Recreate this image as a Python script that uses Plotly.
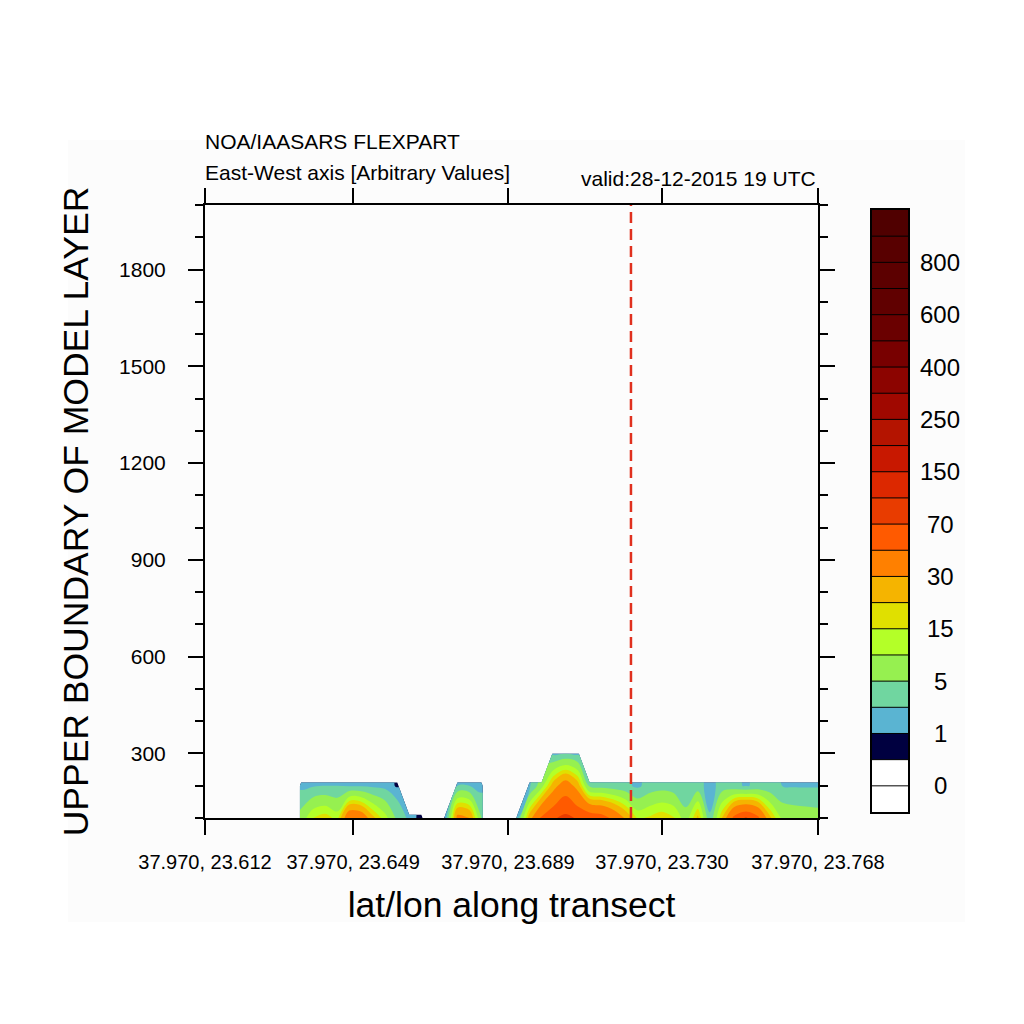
"""FLEXPART vertical transect: layer concentration along a lat/lon cross-section."""

import numpy as np
import plotly.graph_objects as go

# contour levels (value at each boundary) and the fill colour of every band, bottom -> top
level_vals = [0, 0.5, 1, 2, 5, 10, 15, 20, 30, 50, 70, 100, 150, 200, 250,
              300, 400, 500, 600, 700, 800, 900]
band_colors = ["#ffffff", "#ffffff", "#000040", "#5ab4d2", "#70d6a0", "#96f050",
               "#b4ff28", "#e0e000", "#f5b400", "#ff8000", "#ff5a00", "#e83c00",
               "#dc2800", "#c81800", "#b41400", "#a00800", "#8c0400", "#780000",
               "#6a0000", "#600000", "#5c0000", "#580000", "#500000"]

# transect longitude (lat fixed at 37.970)
lon = [23.61200, 23.61506, 23.61812, 23.62118, 23.62424, 23.62729, 23.63035, 23.63341,
       23.63647, 23.63953, 23.64259, 23.64565, 23.64871, 23.65176, 23.65482, 23.65788,
       23.66094, 23.66400, 23.66706, 23.67012, 23.67318, 23.67624, 23.67929, 23.68235,
       23.68541, 23.68847, 23.69153, 23.69459, 23.69765, 23.70071, 23.70376, 23.70682,
       23.70988, 23.71294, 23.71600, 23.71906, 23.72212, 23.72518, 23.72824, 23.73129,
       23.73435, 23.73741, 23.74047, 23.74353, 23.74659, 23.74965, 23.75271, 23.75576,
       23.75882, 23.76188, 23.76494, 23.76800]

# upper boundary of model layer [m]
layer_top = [100, 200, 300]

# concentration per layer (None = masked, no tracer)
conc_100 = [None, None, None, None, None, None, None, None,
            7, 15, 18, 13, 45, 42, 22, 12, 4, 1.5, 0.7, None,
            1.0, 35, 30, 5, None, None,
            2, 25, 55, 68, 75, 68, 66, 60, 45, 28, 14, 16, 19, 16, 7, 22,
            2.2, 20, 55, 73, 55, 22, 9, 8, 7.5, 7]
conc_200 = [None, None, None, None, None, None, None, None,
            1.5, 1.8, 2, 2, 1.8, 1.8, 1.6, 1.4, 0.9, None, None, None,
            None, 2, 2, 1.4, None, None,
            None, 1.5, 8, 25, 40, 25, 4, 3.5, 3, 2.5, 1.6, 3, 3.5, 3, 2, 3,
            1.2, 3, 2.5, 1.8, 2.5, 2.5, 2, 1.8, 1.8, 1.8]
conc_300 = [None] * 29 + [1.5, 2, 1.5] + [None] * 20

# axis labels
x_tick_pos = [23.612, 23.6497, 23.6891, 23.7283, 23.768]
x_tick_text = ["37.970, 23.612", "37.970, 23.649", "37.970, 23.689",
               "37.970, 23.730", "37.970, 23.768"]
y_tick_vals = [300, 600, 900, 1200, 1500, 1800]
site_lon = 23.7204

FONT = "Liberation Sans, Arial, Helvetica, sans-serif"

n_lev = len(level_vals)
z_raw = np.array([conc_100, conc_200, conc_300], dtype=float)
# interpolate on a square-root scale, closer to how the original bands are spaced
z_s = np.sqrt(z_raw)

fig = go.Figure()

# levels are uneven, so each level gets its own single-level filled contour,
# stacked bottom -> top; below the level the layer stays transparent
for k, lev in enumerate(level_vals):
    s = float(np.sqrt(lev))
    fig.add_trace(go.Contour(
        x=lon, y=layer_top, z=z_s,
        autocontour=False,
        contours=dict(start=s, end=s, size=1, coloring="fill", showlines=False),
        colorscale=[[0, "rgba(0,0,0,0)"], [1, band_colors[k + 1]]],
        line=dict(width=0),
        connectgaps=False,
        showscale=False,
        hoverinfo="skip",
        xaxis="x", yaxis="y",
    ))

# colour key: a ramp over the level index, drawn as its own little contour panel
nb = len(band_colors) - 1
key_scale = [[i / nb, c] for i, c in enumerate(band_colors)]
key_y = list(range(-1, n_lev + 1))
fig.add_trace(go.Contour(
    x=[0, 1], y=key_y, z=[[v, v] for v in key_y],
    colorscale=key_scale,
    contours=dict(start=0, end=n_lev - 1, size=1, coloring="fill", showlines=True),
    line=dict(width=1, color="black"),
    showscale=False,
    hoverinfo="skip",
    xaxis="x2", yaxis="y2",
))

# site marker
fig.add_shape(type="line", xref="x", yref="y domain",
              x0=site_lon, x1=site_lon, y0=0, y1=1,
              line=dict(color="#e0301e", width=2.5, dash="11px,6px"))

# page has an 8px body margin, so the figure is laid out in page pixels minus 8
W = 1016
L, R, T = 197, 40, 197
B = W - T - 613
pw = W - L - R
ph = W - T - B
main_right = 613 / pw


def px_x(p):
    """Page x pixel -> paper fraction."""
    return (p - 8 - L) / pw


def px_y(p):
    """Page y pixel -> paper fraction."""
    return (W - B - (p - 8)) / ph


# faint frame of the original image tile
fig.add_shape(type="rect", xref="paper", yref="paper", layer="below",
              x0=px_x(68), x1=px_x(965), y0=px_y(922), y1=px_y(140),
              fillcolor="#fcfcfc", line=dict(width=0))

axis_common = dict(showline=True, linecolor="black", linewidth=2, mirror="ticks",
                   ticks="outside", tickcolor="black", tickwidth=2, ticklen=15,
                   showgrid=False, zeroline=False, automargin=False,
                   tickfont=dict(family=FONT, size=21, color="black"))

fig.update_layout(
    width=W, height=W,
    margin=dict(l=L, r=R, t=T, b=B, autoexpand=False),
    paper_bgcolor="white", plot_bgcolor="white",
    showlegend=False,
    font=dict(family=FONT, color="black"),
    xaxis=dict(axis_common, domain=[0, main_right], range=[lon[0], lon[-1]],
               tickvals=x_tick_pos, ticktext=x_tick_text, tickangle=0,
               ticklabelstandoff=10, tickfont=dict(family=FONT, size=20, color="black"),
               title=dict(text="lat/lon along transect", standoff=20,
                          font=dict(family=FONT, size=35.5, color="black"))),
    yaxis=dict(axis_common, range=[100, 2000], tickvals=y_tick_vals,
               ticklabelstandoff=18,
               minor=dict(dtick=100, tick0=0, ticks="outside", ticklen=8,
                          tickwidth=1.5, tickcolor="black"),
               title=dict(text="UPPER BOUNDARY OF MODEL LAYER", standoff=20,
                          font=dict(family=FONT, size=35.5, color="black"))),
    xaxis2=dict(domain=[px_x(872), px_x(908)], anchor="y2", range=[0, 1],
                showline=True, mirror=True, linecolor="black", linewidth=1.5,
                showticklabels=False, ticks="", showgrid=False, zeroline=False),
    yaxis2=dict(domain=[px_y(812), px_y(210)], anchor="x2",
                range=[-1, n_lev], showline=True, mirror=True, linecolor="black",
                linewidth=1.5, showticklabels=False, ticks="", showgrid=False,
                zeroline=False),
)

# key labels, every second level
for i in range(0, n_lev - 1, 2):
    v = level_vals[i]
    fig.add_annotation(x=px_x(940), xref="paper", y=i, yref="y2",
                       text=f"{v:g}", showarrow=False, xanchor="center",
                       font=dict(family=FONT, size=24, color="black"))

# header texts
header_font = dict(family=FONT, size=21, color="black")
fig.add_annotation(x=px_x(203), y=px_y(142), xref="paper", yref="paper",
                   text="NOA/IAASARS FLEXPART", showarrow=False,
                   xanchor="left", yanchor="middle", font=header_font)
fig.add_annotation(x=px_x(203), y=px_y(173), xref="paper", yref="paper",
                   text="East-West axis [Arbitrary Values]", showarrow=False,
                   xanchor="left", yanchor="middle", font=header_font)
fig.add_annotation(x=main_right, y=px_y(178), xref="paper", yref="paper",
                   text="valid:28-12-2015 19 UTC", showarrow=False,
                   xanchor="right", yanchor="middle", font=header_font)

fig.write_html("out.html")
